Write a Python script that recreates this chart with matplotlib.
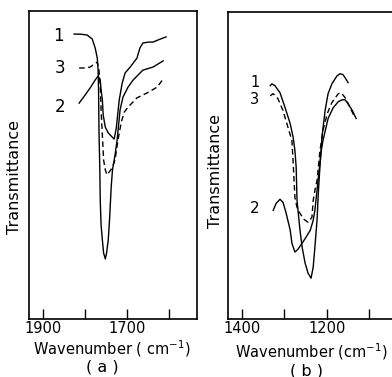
import matplotlib
matplotlib.use("Agg")
import matplotlib.pyplot as plt

plt.rcParams['font.family'] = ['DejaVu Sans']

# ---- panel (a): C=O region ----
wn_a1 = [1826, 1812, 1795, 1783, 1776, 1771, 1769, 1768, 1767, 1765, 1764, 1762, 1759, 1756, 1752,
         1749, 1745, 1742, 1738, 1735, 1729, 1724, 1717, 1710, 1698, 1686, 1663, 1639, 1615]
t_a1 = [92.5, 92.5, 92.2, 90.9, 88.0, 84.7, 80.8, 74.4, 61.4, 48.4, 38.6, 30.5, 25.7, 21.4, 19.5,
        21.4, 25.7, 32.1, 42.9, 48.4, 53.2, 58.1, 67.9, 72.1, 75.3, 77.6, 80.8, 81.8, 83.8]

wn_a2 = [1814, 1800, 1788, 1776, 1769, 1764, 1762, 1759, 1757, 1752, 1745, 1738, 1731, 1726, 1724,
         1719, 1712, 1705, 1693, 1677, 1670, 1663, 1650, 1639, 1627, 1608]
t_a2 = [70.1, 72.7, 75.0, 77.6, 78.9, 77.6, 74.4, 71.1, 66.2, 62.3, 60.4, 59.4, 58.4, 62.0, 64.6,
        71.1, 76.6, 79.9, 81.8, 84.7, 88.0, 89.6, 89.9, 89.9, 90.6, 91.6]

wn_a3 = [1814, 1800, 1788, 1778, 1771, 1767, 1764, 1762, 1759, 1756, 1752, 1748, 1743, 1736, 1729,
         1722, 1714, 1707, 1698, 1686, 1677, 1653, 1629, 1615]
t_a3 = [81.5, 81.5, 81.8, 82.8, 83.4, 80.8, 76.0, 67.9, 59.7, 51.6, 48.4, 46.8, 47.7, 49.0, 51.6,
        58.1, 64.0, 67.2, 68.8, 70.5, 71.8, 73.4, 75.3, 77.9]

# ---- panel (b): C-O region ----
wn_b1 = [1333, 1329, 1322, 1310, 1298, 1286, 1279, 1275, 1272, 1270, 1263, 1258, 1251, 1244, 1237,
         1232, 1228, 1223, 1220, 1216, 1211, 1204, 1197, 1188, 1176, 1169, 1162, 1157, 1150]
t_b1 = [76.0, 76.6, 76.0, 73.7, 68.8, 63.6, 59.1, 54.9, 49.4, 38.6, 28.9, 23.4, 18.2, 14.9, 13.3,
        16.9, 23.4, 32.1, 40.9, 50.0, 59.7, 67.9, 73.4, 76.6, 79.2, 79.9, 79.6, 78.6, 77.0]

wn_b2 = [1326, 1319, 1310, 1303, 1296, 1286, 1282, 1275, 1268, 1258, 1249, 1239, 1232, 1228, 1223,
         1218, 1213, 1209, 1197, 1185, 1173, 1164, 1157, 1150, 1140, 1131]
t_b2 = [35.4, 37.7, 39.0, 38.0, 34.7, 28.9, 24.7, 21.8, 22.7, 24.7, 26.6, 28.9, 32.1, 35.4, 41.9,
        48.4, 54.9, 58.1, 65.3, 68.8, 70.8, 71.4, 71.4, 70.1, 67.9, 65.3]

wn_b3 = [1333, 1326, 1315, 1303, 1291, 1282, 1279, 1275, 1270, 1263, 1254, 1244, 1235, 1232, 1228,
         1223, 1216, 1209, 1199, 1188, 1173, 1166, 1157, 1145, 1136]
t_b3 = [72.7, 73.4, 71.8, 67.9, 62.3, 58.1, 50.7, 39.6, 36.4, 34.4, 32.5, 31.5, 33.1, 38.6, 41.9,
        45.1, 54.9, 61.4, 66.9, 70.5, 73.4, 73.7, 72.1, 68.8, 66.2]

ticks_a = [1900, 1800, 1700, 1600]
ticklabels_a = ['1900', '', '1700', '']
ticks_b = [1400, 1300, 1200, 1100]
ticklabels_b = ['1400', '', '1200', '']

W, H = 392, 377
fig = plt.figure(figsize=(W / 100, H / 100), dpi=100)

ax_a = fig.add_axes([28.5 / W, 58 / H, 168.8 / W, 308 / H])
ax_b = fig.add_axes([227.7 / W, 58 / H, 166.3 / W, 307 / H])

dash = (0, (4, 2.5))
ax_a.plot(wn_a1, t_a1, 'k-', lw=1.0)
ax_a.plot(wn_a2, t_a2, 'k-', lw=1.0)
ax_a.plot(wn_a3, t_a3, color='k', ls=dash, lw=1.0)
ax_b.plot(wn_b1, t_b1, 'k-', lw=1.0)
ax_b.plot(wn_b2, t_b2, 'k-', lw=1.0)
ax_b.plot(wn_b3, t_b3, color='k', ls=dash, lw=1.0)

ax_a.set_xlim(1934, 1534)
ax_b.set_xlim(1433, 1042)

for ax, tk, tl in [(ax_a, ticks_a, ticklabels_a), (ax_b, ticks_b, ticklabels_b)]:
    ax.set_ylim(0, 100)
    ax.set_xticks(tk)
    ax.set_xticklabels(tl, fontsize=10.5)
    ax.set_yticks([])
    ax.tick_params(axis='x', direction='in', length=7, width=1, pad=1.5)
    for s in ax.spines.values():
        s.set_linewidth(1.2)

# curve numbers
ax_a.text(1864, 91.9, '1', fontsize=12, ha='center', va='center')
ax_a.text(1859, 81.5, '3', fontsize=12, ha='center', va='center')
ax_a.text(1859, 68.8, '2', fontsize=12, ha='center', va='center')
ax_b.text(1369, 77.0, '1', fontsize=10.5, ha='center', va='center')
ax_b.text(1369, 71.5, '3', fontsize=10.5, ha='center', va='center')
ax_b.text(1369, 36.0, '2', fontsize=11, ha='center', va='center')

ax_a.text(-0.08, 0.461, 'Transmittance', transform=ax_a.transAxes, rotation=90,
          ha='center', va='center', fontsize=11.5)
ax_b.text(-0.071, 0.482, 'Transmittance', transform=ax_b.transAxes, rotation=90,
          ha='center', va='center', fontsize=11.5)

fig.text(112 / W, 1 - 349 / H, 'Wavenumber ( cm$^{-1}$)', ha='center', va='center', fontsize=10.5)
fig.text(311 / W, 1 - 352 / H, 'Wavenumber (cm$^{-1}$)', ha='center', va='center', fontsize=10.5)
fig.text(102 / W, 1 - 367 / H, '( a )', ha='center', va='center', fontsize=11.5)
fig.text(307 / W, 1 - 371 / H, '( b )', ha='center', va='center', fontsize=11.5)

fig.savefig('out.png', dpi=100)
